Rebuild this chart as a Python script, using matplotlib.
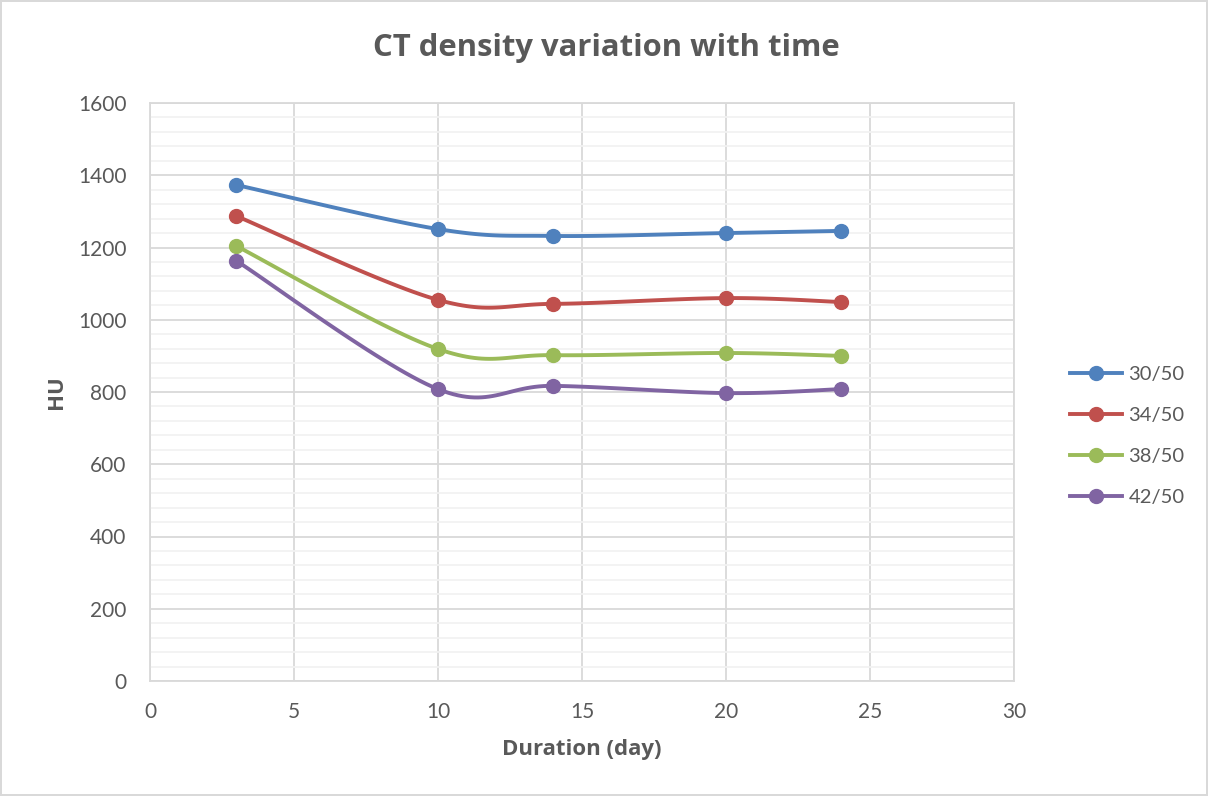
import numpy as np
import matplotlib
matplotlib.use("Agg")
import matplotlib.pyplot as plt
from matplotlib.ticker import MultipleLocator
from matplotlib.lines import Line2D

days = [3, 10, 14, 20, 24]
series = ["30/50", "34/50", "38/50", "42/50"]
hu_30 = [1373, 1251, 1232, 1240, 1246]
hu_34 = [1287, 1055, 1044, 1060, 1049]
hu_38 = [1204, 919, 902, 908, 900]
hu_42 = [1163, 808, 817, 797, 808]
colors = ["#4F81BD", "#C0504D", "#9BBB59", "#8064A2"]

plt.rcParams['font.family'] = ['Lato', 'DejaVu Sans']
bold_font = ['Open Sans', 'DejaVu Sans']
grey = "#595959"


def smooth(x, y, n=30):
    # Excel-like smoothed line: cubic bezier with catmull-rom control points
    x = np.asarray(x, float)
    y = np.asarray(y, float)
    px = np.concatenate([[x[0]], x, [x[-1]]])
    py = np.concatenate([[y[0]], y, [y[-1]]])
    xs, ys = [], []
    t = np.linspace(0, 1, n)
    for i in range(1, len(px) - 2):
        p0 = np.array([px[i], py[i]])
        p3 = np.array([px[i + 1], py[i + 1]])
        p1 = p0 + (np.array([px[i + 1], py[i + 1]]) - np.array([px[i - 1], py[i - 1]])) / 6
        p2 = p3 - (np.array([px[i + 2], py[i + 2]]) - np.array([px[i], py[i]])) / 6
        b = ((1 - t) ** 3)[:, None] * p0 + (3 * (1 - t) ** 2 * t)[:, None] * p1 \
            + (3 * (1 - t) * t ** 2)[:, None] * p2 + (t ** 3)[:, None] * p3
        xs.extend(b[:, 0])
        ys.extend(b[:, 1])
    return xs, ys


fig = plt.figure(figsize=(12.08, 7.96), dpi=100)
fig.patch.set_edgecolor("#d9d9d9")
fig.patch.set_linewidth(1.5)
ax = fig.add_axes([150 / 1208, 1 - 681 / 796, 864 / 1208, 578 / 796])

handles = []
for name, vals, c in zip(series, [hu_30, hu_34, hu_38, hu_42], colors):
    sx, sy = smooth(days, vals)
    ax.plot(sx, sy, color=c, lw=2.8, solid_capstyle="round", zorder=3)
    ax.plot(days, vals, "o", color=c, ms=10, zorder=4)
    handles.append(Line2D([], [], color=c, lw=2.8, marker="o", ms=10))

ax.set_xlim(0, 30)
ax.set_ylim(0, 1600)
ax.xaxis.set_major_locator(MultipleLocator(5))
ax.yaxis.set_major_locator(MultipleLocator(200))
ax.yaxis.set_minor_locator(MultipleLocator(40))
ax.grid(which="major", color="#d9d9d9", lw=1.3, zorder=1)
ax.grid(which="minor", axis="y", color="#f2f2f2", lw=1.3, zorder=0)
ax.set_axisbelow(True)
for s in ax.spines.values():
    s.set_color("#d9d9d9")
    s.set_linewidth(1.3)
ax.tick_params(which="both", length=0, labelsize=15, colors=grey)
ax.tick_params(axis="x", pad=15)
ax.tick_params(axis="y", pad=17)

fig.text(606 / 1208, 1 - 48 / 796, "CT density variation with time", fontsize=22.3,
         fontweight="bold", color=grey, family=bold_font, ha="center", va="center")
fig.text(582 / 1208, 1 - 750 / 796, "Duration (day)", fontsize=16, fontweight="bold",
         color=grey, family=bold_font, ha="center", va="center")
fig.text(57 / 1208, 1 - 392 / 796, "HU", fontsize=16, fontweight="bold", color=grey,
         family=bold_font, ha="center", va="center", rotation=90)

fig.legend(handles, series, loc="center left", bbox_to_anchor=(1052 / 1208, 1 - 436 / 796),
           frameon=False, fontsize=14.5, labelcolor=grey, handlelength=2.6,
           labelspacing=1.2, handletextpad=0.3)

fig.savefig("out.png", dpi=100, edgecolor=fig.get_edgecolor())
